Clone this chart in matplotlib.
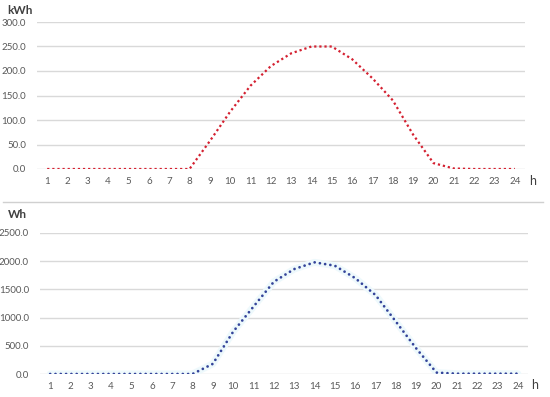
import numpy as np
import matplotlib.pyplot as plt
from matplotlib.lines import Line2D

# stunden 1..24
hours = list(range(1, 25))

# Tagesenergie (kWh) - oben
energy_kwh = [0, 0, 0, 0, 0, 0, 0, 0, 57, 117, 170, 210, 236, 250, 250, 224,
              185, 140, 70, 12, 1, 0, 0, 0]

# Leistung (Wh) - unten
energy_wh = [0, 0, 0, 0, 0, 0, 0, 0, 180, 750, 1195, 1635, 1860, 1980, 1920, 1700,
             1400, 930, 455, 25, 5, 5, 5, 5]

plt.rcParams["font.family"] = ["Lato", "DejaVu Sans"]

fig = plt.figure(figsize=(5.5, 3.97), dpi=100)

grid_col = "#d9d9d9"
tick_col = "#595959"


def style_axes(ax, ymax, step):
    ax.set_xlim(0.5, 24.5)
    ax.set_ylim(0, ymax)
    ax.set_yticks(np.arange(0, ymax + 1, step))
    ax.set_yticklabels([f"{v:.1f}" for v in np.arange(0, ymax + 1, step)])
    ax.set_xticks(hours)
    ax.set_xticklabels([str(h) for h in hours])
    ax.grid(axis="y", color=grid_col, linewidth=1)
    ax.set_axisbelow(True)
    for s in ax.spines.values():
        s.set_visible(False)
    ax.tick_params(length=0, labelsize=7, colors=tick_col, pad=6)
    ax.tick_params(axis="y", pad=8)


# oberes Diagramm
ax1 = fig.add_axes([37 / 550, (397 - 169) / 397, 488 / 550, 147 / 397])
style_axes(ax1, 300, 50)
ax1.plot(hours, energy_kwh, color="#d42030", linewidth=1.6,
         linestyle=(0, (1, 1.3)), dash_capstyle="butt")
fig.text(7 / 550, 1 - 10 / 397, "kWh", fontsize=8.5, fontweight="bold",
         color="#404040", ha="left", va="center")
fig.text(533 / 550, 1 - 181 / 397, "h", fontsize=9, color="#404040",
         ha="center", va="center")

# Trennlinie
fig.add_artist(Line2D([3 / 550, 543 / 550], [1 - 202 / 397, 1 - 202 / 397],
                      color="#d0d0d0", linewidth=1, transform=fig.transFigure))

# unteres Diagramm
ax2 = fig.add_axes([40 / 550, (397 - 374) / 397, 488 / 550, 141 / 397])
style_axes(ax2, 2500, 500)
ax2.plot(hours, energy_wh, color="#eef9fc", linewidth=5, solid_capstyle="round",
         zorder=2)
ax2.plot(hours, energy_wh, color="#34449a", linewidth=2.0,
         linestyle=(0, (0.01, 1.9)), dash_capstyle="round", zorder=3)
fig.text(8 / 550, 1 - 215 / 397, "Wh", fontsize=8.5, fontweight="bold",
         color="#404040", ha="left", va="center")
fig.text(535 / 550, 1 - 385 / 397, "h", fontsize=9, color="#404040",
         ha="center", va="center")

fig.savefig("out.png", dpi=100)
